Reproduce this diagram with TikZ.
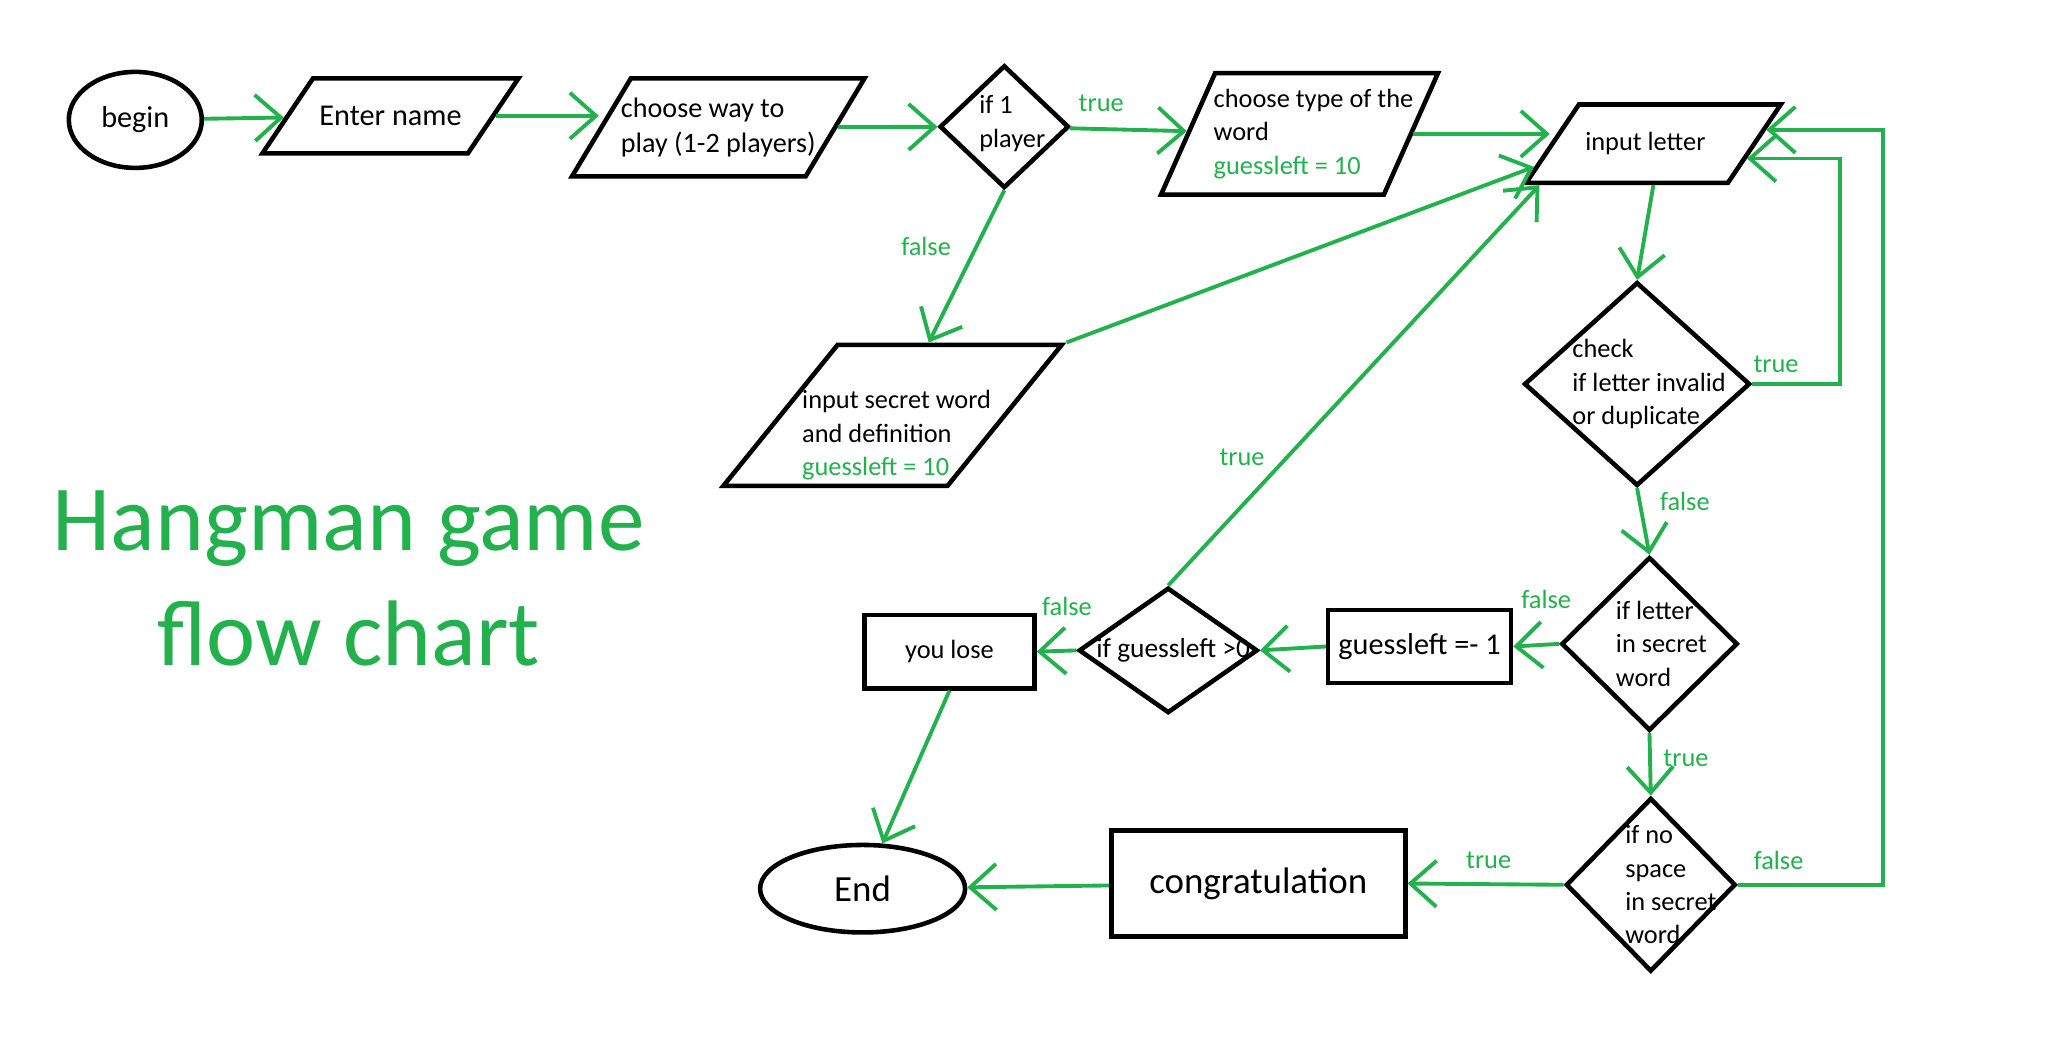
\documentclass[tikz,border=0pt]{standalone}
\usepackage{fontspec}
\setmainfont{Carlito}
\usepackage{tikz}
\usetikzlibrary{arrows.meta}
\usetikzlibrary{shapes.geometric}
\definecolor{hgreen}{RGB}{34,177,76}

\begin{document}
\begin{tikzpicture}[>={Straight Barb[length=2.6mm,width=4.6mm]},
  txt/.style={font=\fontsize{7.5}{9.5}\selectfont, align=left},
  lbl/.style={text=hgreen, font=\fontsize{7.5}{9}\selectfont, inner sep=1pt},
  flow/.style={->, draw=hgreen, line width=1.1pt},
  shp/.style={draw, line width=1.3pt, inner sep=0pt},
  io/.style 2 args={shp, trapezium, trapezium stretches body, trapezium left angle=#1, trapezium right angle={180-#1}, inner ysep=#2},
  decide/.style={shp, diamond},
  term/.style={shp, ellipse}]

  \useasboundingbox (0,0) rectangle (20.48,-10.54);

  \node[term, minimum width=1.33cm, minimum height=0.96cm, font=\fontsize{8.6}{10}\selectfont] (begin) at (1.353,-1.199) {begin};
  \node[io={56}{0.375cm}, minimum width=2.56cm, label={[txt, font=\fontsize{8.6}{10}\selectfont]center:{Enter name}}] (name) at (3.905,-1.158) {};
  \node[io={59}{0.49cm}, minimum width=2.925cm, label={[txt, font=\fontsize{8}{10}\selectfont]center:{choose way to\\play (1-2 players)}}] (way) at (7.183,-1.273) {};
  \node[decide, minimum width=1.293cm, minimum height=1.228cm, label={[txt, xshift=0.08cm, yshift=0.03cm]center:{if 1\\player}}] (if1) at (10.043,-1.267) {};
  \node[io={66}{0.607cm}, minimum width=2.769cm, label={[txt, xshift=0.14cm]center:{choose type of the\\word\\\textcolor{hgreen}{guessleft = 10}}}] (type) at (12.995,-1.339) {};
  \node[io={56}{0.392cm}, minimum width=2.547cm, label={[txt, xshift=-0.08cm]center:{input letter}}] (inl) at (16.534,-1.437) {};
  \node[io={51}{0.705cm}, minimum width=3.383cm, label={[txt, xshift=0.04cm, yshift=-0.2cm]center:{input secret word\\and definition\\\textcolor{hgreen}{guessleft = 10}}}] (sec) at (8.926,-4.153) {};
  \node[decide, minimum width=2.259cm, minimum height=2.037cm, label={[txt, xshift=0.12cm]center:{check\\if letter invalid\\or duplicate}}] (chk) at (16.371,-3.840) {};
  \node[decide, minimum width=1.763cm, minimum height=1.737cm, label={[txt, xshift=0.12cm]center:{if letter\\in secret\\word}}] (inw) at (16.495,-6.439) {};
  \node[shp, minimum width=1.828cm, minimum height=0.731cm, font=\fontsize{8.6}{10}\selectfont] (dec) at (14.196,-6.465) {guessleft =- 1};
  \node[decide, minimum width=1.789cm, minimum height=1.254cm, label={[txt, font=\fontsize{7.8}{10}\selectfont, xshift=0.05cm]center:{if guessleft >0}}] (gl0) at (11.682,-6.504) {};
  \node[shp, minimum width=1.698cm, minimum height=0.731cm, txt] (lose) at (9.495,-6.517) {you lose};
  \node[term, minimum width=2.05cm, minimum height=0.875cm, font=\fontsize{10.5}{12}\selectfont] (endn) at (8.626,-8.887) {End};
  \node[shp, minimum width=2.939cm, minimum height=1.058cm, font=\fontsize{10.5}{12}\selectfont] (cong) at (12.583,-8.835) {congratulation};
  \node[decide, minimum width=1.698cm, minimum height=1.737cm, label={[txt, xshift=0.2cm]center:{if no\\space\\in secret\\word}}] (nsp) at (16.508,-8.848) {};
  \node[text=hgreen, font=\fontsize{26.5}{32.6}\selectfont, align=center] (title) at (3.487,-5.786) {Hangman game\\flow chart};

  \draw[flow] (begin) -- (name);
  \draw[flow] (name.east) -- (name.east -| way.west);
  \draw[flow] (way) -- (if1);
  \draw[flow] (if1) -- node[lbl, above=1.2mm, pos=0.27]{true} (type);
  \draw[flow] (if1.south) -- node[lbl, left=2mm, pos=0.37]{false} (sec);
  \draw[flow] (type.east) -- (type.east -| inl.west);
  \draw[flow] (sec.top right corner) -- (inl.191);
  \draw[flow] (inl.south) -- (chk.north);
  \draw[flow] (chk.east) -- node[lbl, above=0.6mm, pos=0.27]{true} ++(0.88,0) |- (inl.-9);
  \draw[flow] (chk.south) -- node[lbl, right=1.5mm, pos=0.2]{false} (inw.north);
  \draw[flow] (inw.west) -- node[lbl, above=3mm, pos=0.28]{false} (dec.east);
  \draw[flow] (dec.west) -- (gl0.east);
  \draw[flow] (gl0.west) -- node[lbl, above=3mm, pos=0.24]{false} (lose.east);
  \draw[flow] (gl0.north) -- node[lbl, left=1.7mm, pos=0.32]{true} (inl.200);
  \draw[flow] (inw.south) -- node[lbl, right=0.8mm, pos=0.4]{true} (nsp.north);
  \draw[flow] (nsp.west) -- node[lbl, above=1mm, pos=0.48]{true} (cong.east);
  \draw[flow] (nsp.east) -- node[lbl, above=1mm, pos=0.28]{false} ++(1.45,0) |- (inl.7);
  \draw[flow] (cong) -- (endn);
  \draw[flow] (lose.south) -- (endn);

\end{tikzpicture}
\end{document}
